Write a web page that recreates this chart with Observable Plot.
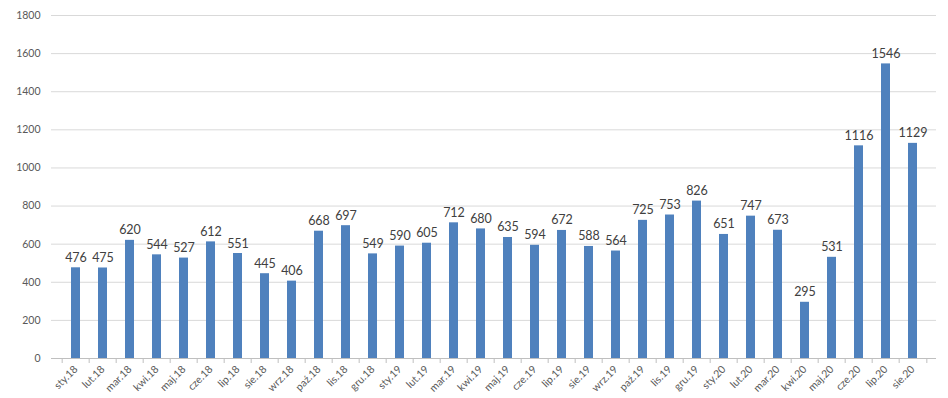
<!DOCTYPE html>
<html>
<head>
<meta charset="utf-8">
<script src="https://cdn.jsdelivr.net/npm/d3@7"></script>
<script src="https://cdn.jsdelivr.net/npm/@observablehq/plot@0.6"></script>
<style>
  html, body { margin: 0; padding: 0; background: #fff; }
  #chart { width: 948px; height: 398px; }
</style>
</head>
<body>
<div id="chart"></div>
<script>
const months = ["sty.18","lut.18","mar.18","kwi.18","maj.18","cze.18","lip.18","sie.18","wrz.18","paź.18","lis.18","gru.18",
  "sty.19","lut.19","mar.19","kwi.19","maj.19","cze.19","lip.19","sie.19","wrz.19","paź.19","lis.19","gru.19",
  "sty.20","lut.20","mar.20","kwi.20","maj.20","cze.20","lip.20","sie.20"];
const values = [476,475,620,544,527,612,551,445,406,668,697,549,
  590,605,712,680,635,594,672,588,564,725,753,826,
  651,747,673,295,531,1116,1546,1129];
const yTicks = [0,200,400,600,800,1000,1200,1400,1600,1800];

const data = months.map((m, i) => ({month: m, value: values[i]}));

const W = 948, H = 398, mL = 51, mR = 12, mT = 15, mB = 40;
const step = (W - mL - mR) / months.length;

const chart = Plot.plot({
  width: W,
  height: H,
  marginLeft: mL,
  marginRight: mR,
  marginTop: mT,
  marginBottom: mB,
  style: {fontFamily: "Lato, 'Open Sans', sans-serif", background: "#fff"},
  x: {domain: months, paddingInner: 0.67, paddingOuter: 0.335, label: null},
  y: {domain: [0, 1800], label: null},
  marks: [
    Plot.gridY(yTicks, {stroke: "#d9d9d9", strokeOpacity: 1}),
    Plot.axisY(yTicks, {tickSize: 0, tickPadding: 11, fontSize: 10.5, fill: "#595959", label: null, tickFormat: d => String(d)}),
    Plot.barY(data, {x: "month", y: "value", fill: "#4f81bd"}),
    Plot.ruleY([0], {stroke: "#bfbfbf"}),
    Plot.axisX({tickSize: 5, stroke: "#bfbfbf", text: null, dx: -step / 2, label: null}),
    Plot.axisX(["sie.20"], {tickSize: 5, stroke: "#bfbfbf", text: null, dx: step / 2, label: null}),
    Plot.axisX({tickSize: 0, tickRotate: -45, tickPadding: 9, fontSize: 10.5, fill: "#595959", label: null}),
    Plot.text(data, {x: "month", y: "value", text: d => String(d.value), dy: -10, fontSize: 12.5, fill: "#404040"})
  ]
});
document.getElementById("chart").appendChild(chart);
</script>
</body>
</html>
